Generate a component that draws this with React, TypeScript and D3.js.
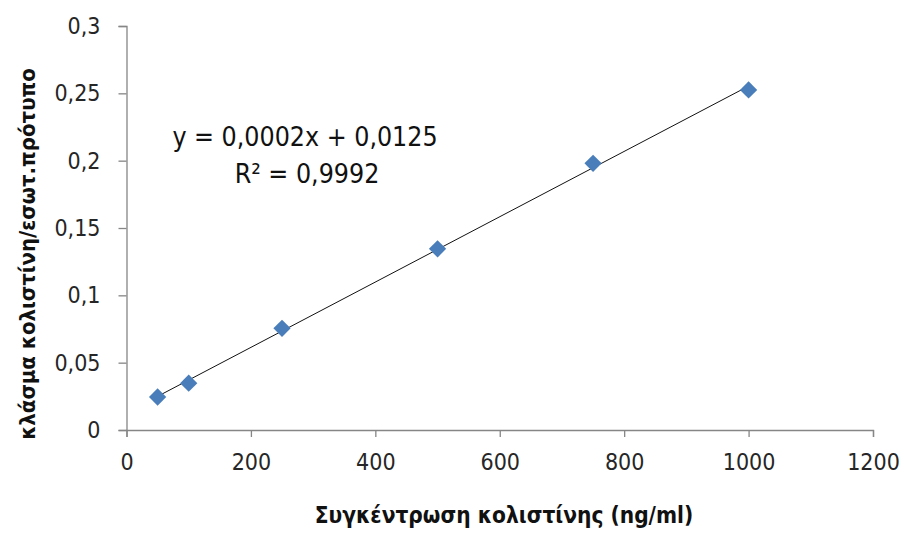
import React, { useEffect, useRef } from 'react';
import * as d3 from 'd3';

// concentration (ng/ml) and peak-area ratio
const concentrations = [50, 100, 250, 500, 750, 1000];
const ratios = [0.0245, 0.0348, 0.0755, 0.1345, 0.198, 0.2525];

const xTicks = [0, 200, 400, 600, 800, 1000, 1200];
const yTicks = [0, 0.05, 0.1, 0.15, 0.2, 0.25, 0.3];

const equationText = 'y = 0,0002x + 0,0125';
const r2Text = 'R² = 0,9992';
const xTitle = 'Συγκέντρωση κολιστίνης (ng/ml)';
const yTitle = 'κλάσμα κολιστίνη/εσωτ.πρότυπο';

const width = 904, height = 536;
const margin = { top: 26, right: 31, bottom: 106, left: 126.5 };
const font = "'DejaVu Sans Condensed', 'DejaVu Sans', sans-serif";

const App = () => {
  const svgRef = useRef<SVGSVGElement>(null);

  useEffect(() => {
    const svg = d3.select(svgRef.current);
    svg.selectAll('*').remove();

    const x = d3.scaleLinear().domain([0, 1200]).range([margin.left, width - margin.right]);
    const y = d3.scaleLinear().domain([0, 0.3]).range([height - margin.bottom, margin.top]);

    const fmt = (v: number) => String(+v.toFixed(2)).replace('.', ',');

    // y axis
    const yAxis = svg.append('g')
      .attr('transform', `translate(${margin.left},0)`)
      .call(d3.axisLeft(y).tickValues(yTicks).tickFormat(d => fmt(+d)).tickSize(8).tickPadding(18));
    yAxis.select('.domain').attr('stroke', '#868686').attr('stroke-width', 1.3);
    yAxis.selectAll('.tick line').attr('stroke', '#868686').attr('stroke-width', 1.3);
    yAxis.selectAll('.tick text')
      .attr('fill', '#262626')
      .style('font-family', font)
      .style('font-size', '23px');

    // x axis
    const xAxis = svg.append('g')
      .attr('transform', `translate(0,${height - margin.bottom})`)
      .call(d3.axisBottom(x).tickValues(xTicks).tickFormat(d => String(d)).tickSize(7).tickPadding(17));
    xAxis.select('.domain').attr('stroke', '#868686').attr('stroke-width', 1.3);
    xAxis.selectAll('.tick line').attr('stroke', '#868686').attr('stroke-width', 1.3);
    xAxis.selectAll('.tick text')
      .attr('fill', '#262626')
      .style('font-family', font)
      .style('font-size', '23px');

    // linear trendline (least squares)
    const mx = d3.mean(concentrations)!;
    const my = d3.mean(ratios)!;
    const slope = d3.sum(concentrations, (c, i) => (c - mx) * (ratios[i] - my)) /
      d3.sum(concentrations, c => (c - mx) ** 2);
    const intercept = my - slope * mx;
    const ext = d3.extent(concentrations) as [number, number];
    svg.append('line')
      .attr('x1', x(ext[0])).attr('y1', y(slope * ext[0] + intercept))
      .attr('x2', x(ext[1])).attr('y2', y(slope * ext[1] + intercept))
      .attr('stroke', '#111')
      .attr('stroke-width', 1);

    // markers
    const diamond = d3.symbol().type(d3.symbolDiamond2).size(190);
    svg.append('g')
      .selectAll('path')
      .data(concentrations.map((c, i) => ({ c, r: ratios[i] })))
      .join('path')
      .attr('d', diamond)
      .attr('transform', d => `translate(${x(d.c)},${y(d.r)})`)
      .attr('fill', '#4a7ebb');

    // equation label
    const eq = svg.append('text')
      .attr('text-anchor', 'middle')
      .attr('fill', '#111')
      .style('font-family', font)
      .style('font-size', '26.5px');
    eq.append('tspan').attr('x', 305).attr('y', 146).text(equationText);
    eq.append('tspan').attr('x', 307).attr('y', 183).text(r2Text);

    // axis titles
    svg.append('text')
      .attr('x', 504)
      .attr('y', 523)
      .attr('text-anchor', 'middle')
      .attr('fill', '#111')
      .style('font-family', font)
      .style('font-size', '22.5px')
      .style('font-weight', 'bold')
      .text(xTitle);

    svg.append('text')
      .attr('transform', `translate(35,254) rotate(-90)`)
      .attr('text-anchor', 'middle')
      .attr('fill', '#111')
      .style('font-family', font)
      .style('font-size', '22px')
      .style('font-weight', 'bold')
      .text(yTitle);
  }, []);

  return (
    <svg
      ref={svgRef}
      width={width}
      height={height}
      style={{ position: 'absolute', left: 0, top: 0, background: '#fff' }}
    ></svg>
  );
};

export default App;
